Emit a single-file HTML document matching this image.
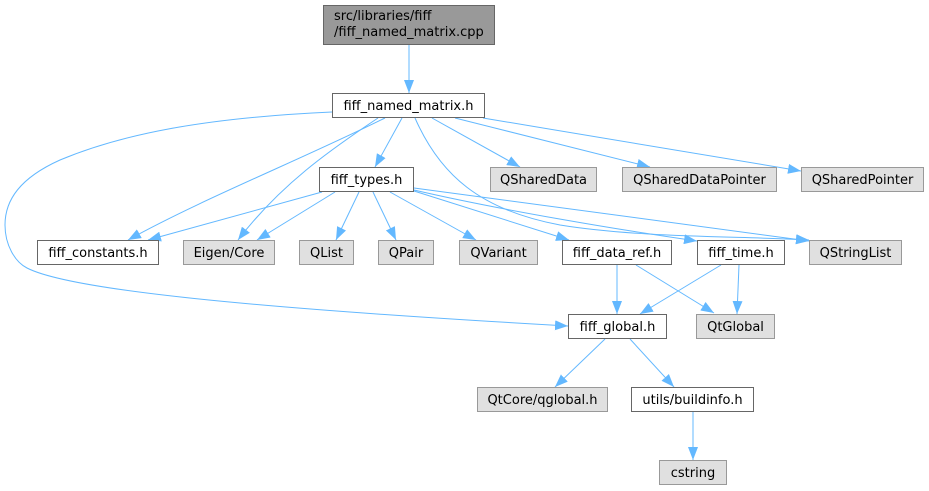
<!DOCTYPE html>
<html><head><meta charset="utf-8"><style>
html,body{margin:0;padding:0;background:#fff;}
svg{display:block;}
text{font-family:"DejaVu Sans","Liberation Sans",sans-serif;font-size:13px;fill:#000;}
</style></head><body>
<svg width="929" height="491" viewBox="0 0 929 491" xmlns="http://www.w3.org/2000/svg">
<defs>
<marker id="a" viewBox="0 0 13 10" refX="13" refY="5" markerWidth="13" markerHeight="10" markerUnits="userSpaceOnUse" orient="auto">
<path d="M0,0 L13,5 L0,10 z" fill="#63b8ff"/>
</marker>
</defs>
<g fill="none" stroke="#63b8ff" stroke-width="1" marker-end="url(#a)">
<path d="M409,45 L409,93"/>
<path d="M332,112 C200,118 120,135 60,160 C20,178 5,200 5,225 C5,245 15,262 27,268 C70,290 250,308 568,326"/>
<path d="M385,118 C300,160 200,200 128,240"/>
<path d="M378,118 C330,150 280,185 238,240"/>
<path d="M402,118 L375,167"/>
<path d="M432,118 L520,167"/>
<path d="M455,118 L650,167"/>
<path d="M483,118 L801,171"/>
<path d="M415,118 C440,175 480,210 560,225 C640,238 740,236 809,240"/>
<path d="M322,192 L148,240"/>
<path d="M335,192 L257,240"/>
<path d="M359,192 L336,240"/>
<path d="M373,192 L396,240"/>
<path d="M390,192 L476,240"/>
<path d="M414,191 L569,240"/>
<path d="M414,190 C500,210 620,230 697,241"/>
<path d="M414,188 L809,241"/>
<path d="M617,265 L617,314"/>
<path d="M636,265 L714,313"/>
<path d="M721,265 L640,314"/>
<path d="M739,265 L737,314"/>
<path d="M605,339 L555,387"/>
<path d="M630,339 L674,387"/>
<path d="M693,412 L693,460"/>
</g>
<g stroke-width="1">
<rect x="323.5" y="5.5" width="171" height="39" fill="#999999" stroke="#666666"/>
<rect x="332.5" y="93.5" width="152" height="24" fill="#ffffff" stroke="#666666"/>
<rect x="319.5" y="167.5" width="94" height="24" fill="#ffffff" stroke="#666666"/>
<rect x="490.5" y="167.5" width="106" height="24" fill="#e0e0e0" stroke="#999999"/>
<rect x="622.5" y="167.5" width="154" height="24" fill="#e0e0e0" stroke="#999999"/>
<rect x="801.5" y="167.5" width="122" height="24" fill="#e0e0e0" stroke="#999999"/>
<rect x="37.5" y="240.5" width="121" height="24" fill="#ffffff" stroke="#666666"/>
<rect x="183.5" y="240.5" width="91" height="24" fill="#e0e0e0" stroke="#999999"/>
<rect x="299.5" y="240.5" width="54" height="24" fill="#e0e0e0" stroke="#999999"/>
<rect x="378.5" y="240.5" width="55" height="24" fill="#e0e0e0" stroke="#999999"/>
<rect x="459.5" y="240.5" width="78" height="24" fill="#e0e0e0" stroke="#999999"/>
<rect x="562.5" y="240.5" width="109" height="24" fill="#ffffff" stroke="#666666"/>
<rect x="697.5" y="240.5" width="87" height="24" fill="#ffffff" stroke="#666666"/>
<rect x="809.5" y="240.5" width="92" height="24" fill="#e0e0e0" stroke="#999999"/>
<rect x="568.5" y="314.5" width="98" height="24" fill="#ffffff" stroke="#666666"/>
<rect x="696.5" y="314.5" width="78" height="24" fill="#e0e0e0" stroke="#999999"/>
<rect x="477.5" y="387.5" width="130" height="24" fill="#e0e0e0" stroke="#999999"/>
<rect x="631.5" y="387.5" width="122" height="24" fill="#ffffff" stroke="#666666"/>
<rect x="659.5" y="460.5" width="67" height="24" fill="#e0e0e0" stroke="#999999"/>
</g>
<g>
<text x="334" y="20">src/libraries/fiff</text>
<text x="334" y="36">/fiff_named_matrix.cpp</text>
<g text-anchor="middle">
<text x="408.5" y="110">fiff_named_matrix.h</text>
<text x="366.5" y="184">fiff_types.h</text>
<text x="543.5" y="184">QSharedData</text>
<text x="699.5" y="184">QSharedDataPointer</text>
<text x="862.5" y="184">QSharedPointer</text>
<text x="98" y="257">fiff_constants.h</text>
<text x="229" y="257">Eigen/Core</text>
<text x="326.5" y="257">QList</text>
<text x="406" y="257">QPair</text>
<text x="498.5" y="257">QVariant</text>
<text x="617" y="257">fiff_data_ref.h</text>
<text x="741" y="257">fiff_time.h</text>
<text x="855.5" y="257">QStringList</text>
<text x="617.5" y="331">fiff_global.h</text>
<text x="735.5" y="331">QtGlobal</text>
<text x="542.5" y="404">QtCore/qglobal.h</text>
<text x="692.5" y="404">utils/buildinfo.h</text>
<text x="693" y="477">cstring</text>
</g>
</g>
</svg>
</body></html>
